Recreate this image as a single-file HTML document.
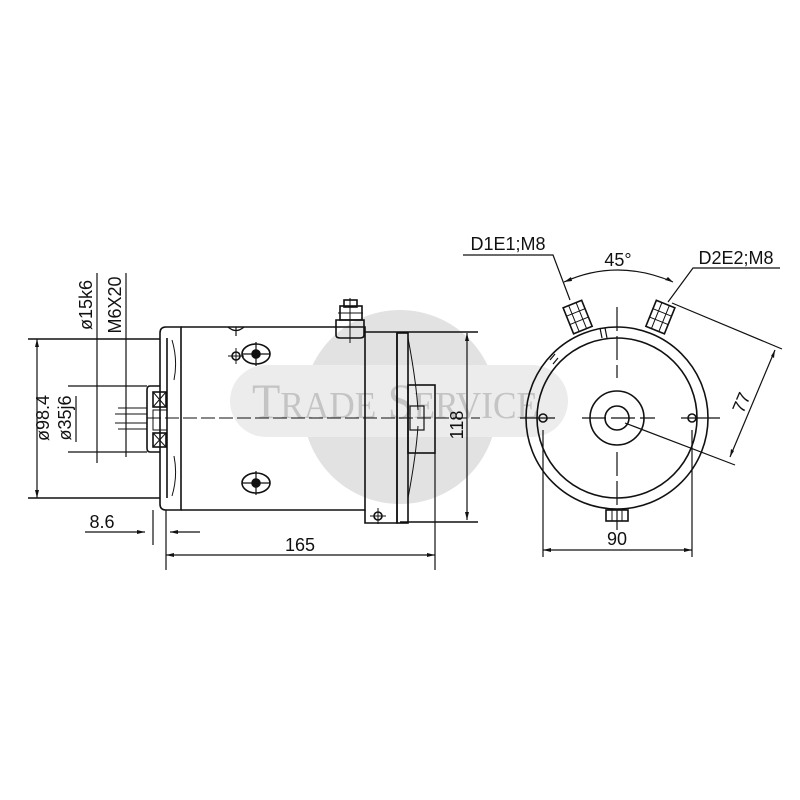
<!DOCTYPE html>
<html><head><meta charset="utf-8"><style>
html,body{margin:0;padding:0;background:#fff;}
svg{display:block;}
text{font-family:"Liberation Sans",sans-serif;fill:#111;}
</style></head><body>
<svg width="800" height="800" viewBox="0 0 800 800" xmlns="http://www.w3.org/2000/svg">
<!-- watermark -->
<circle cx="400" cy="407" r="97" fill="#e2e2e2"/>
<rect x="230" y="365" width="338" height="72" rx="36" fill="#ececec"/>
<text x="252" y="418" textLength="286" lengthAdjust="spacingAndGlyphs" style="fill:#c4c4c4;font-family:'Liberation Serif',serif;font-size:50px">T<tspan style="font-size:38px">RADE</tspan> S<tspan style="font-size:38px">ERVICE</tspan></text>

<g stroke="#111" fill="none" stroke-width="1.6">
<!-- LEFT VIEW body -->
<path d="M181 327 H365 V510 H181"/>
<path d="M166 327 H181 V510 H166 Q160 510 160 504 V333 Q160 327 166 327 Z"/>
<line x1="167" y1="338" x2="167" y2="498"/>
<path d="M172 340 Q178 360 174 380 M172 496 Q178 476 174 456" stroke-width="1"/>
<!-- hub -->
<path d="M160 386 H150 Q147 386 147 390 V448 Q147 452 150 452 H160"/>
<rect x="153" y="392" width="13" height="15"/>
<path d="M153 392 L166 407 M166 392 L153 407" stroke-width="1"/>
<rect x="153" y="433" width="13" height="14"/>
<path d="M153 433 L166 447 M166 433 L153 447" stroke-width="1"/>
<rect x="153" y="410" width="14" height="20" stroke-width="1"/>
<!-- shaft lines -->
<path d="M118 408 H147 M115 414 H147 M115 423 H147 M118 429 H147" stroke-width="1"/>
<!-- centerline -->
<line x1="147" y1="418" x2="480" y2="418" stroke-width="1" stroke-dasharray="14,4"/>
<!-- terminal top -->
<path d="M336 320 H364 V335 Q364 338 360 338 H340 Q336 338 336 335 Z"/>
<rect x="340" y="306" width="22" height="14"/>
<rect x="344" y="300" width="13" height="7"/>
<line x1="350" y1="298" x2="350" y2="343" stroke-width="1"/>
<line x1="338" y1="313" x2="363" y2="313" stroke-width="1"/>
<!-- small symbols -->
<path d="M228 327 Q236 334 244 327 M236 327 V336" stroke-width="1.2"/>
<ellipse cx="256" cy="354" rx="14" ry="10"/>
<path d="M256 342 V366 M242 354 H270" stroke-width="1.2"/>
<circle cx="256" cy="354" r="4" fill="#111"/>
<circle cx="236" cy="356" r="4"/>
<path d="M228 356 H244 M236 348 V364" stroke-width="1"/>
<ellipse cx="256" cy="483" rx="14" ry="10"/>
<path d="M256 471 V495 M242 483 H270" stroke-width="1.2"/>
<circle cx="256" cy="483" r="4" fill="#111"/>
<!-- right end cap -->
<path d="M365 332 H478"/>
<path d="M365 510 V523 H397 V333"/>
<rect x="397" y="333" width="11" height="190"/>
<path d="M408 338 Q416 380 418 410 M408 498 Q416 456 418 426" stroke-width="1"/>
<rect x="408" y="385" width="27" height="68"/>
<rect x="410" y="406" width="14" height="24" stroke-width="1.2"/>
<circle cx="378" cy="516" r="4"/>
<path d="M370 516 H386 M378 508 V524" stroke-width="1"/>
<path d="M400 522 H478"/>

<!-- dims left -->
<path d="M28 339 H160 M28 498 H160"/>
<line x1="37" y1="339" x2="37" y2="498" stroke-width="1.2"/>
<path d="M68 386 H147 M68 452 H147" stroke-width="1.2"/>
<line x1="97" y1="273" x2="97" y2="463" stroke-width="1.2"/>
<line x1="126" y1="273" x2="126" y2="457" stroke-width="1.2"/>
<line x1="76" y1="396" x2="76" y2="442" stroke-width="1.2"/>
<path d="M153 510 V545 M166 510 V570 M435 453 V570" stroke-width="1.2"/>
<path d="M85 532 H145 M170 532 H200" stroke-width="1.2"/>
<line x1="166" y1="555" x2="435" y2="555" stroke-width="1.2"/>
<line x1="467" y1="333" x2="467" y2="520" stroke-width="1.2"/>
</g>
<g fill="#111">
<path d="M37 339 l-2 8 h4z M37 498 l-2 -8 h4z M166 555 l8 -2 v4z M435 555 l-8 -2 v4z M467 333 l-2 8 h4z M467 520 l-2 -8 h4z M145 532 l-8 -2 v4z M170 532 l8 -2 v4z"/>
</g>
<g font-size="18">
<text transform="translate(49 418) rotate(-90)" text-anchor="middle">ø98.4</text>
<text transform="translate(92 305) rotate(-90)" text-anchor="middle">ø15k6</text>
<text transform="translate(121 305) rotate(-90)" text-anchor="middle">M6X20</text>
<text transform="translate(71 418) rotate(-90)" text-anchor="middle">ø35j6</text>
<text x="102" y="528" text-anchor="middle">8.6</text>
<text x="300" y="551" text-anchor="middle">165</text>
<text transform="translate(463 425) rotate(-90)" text-anchor="middle">118</text>
</g>

<!-- RIGHT VIEW -->
<g stroke="#111" fill="none" stroke-width="1.6">
<circle cx="617" cy="418" r="91"/>
<circle cx="617" cy="418" r="80"/>
<circle cx="617" cy="418" r="27"/>
<circle cx="617" cy="418" r="12"/>
<path d="M617 307 V378 M617 452 V530 M582 418 H655" stroke-width="1.2" stroke-dasharray="24,5"/>
<circle cx="543" cy="418" r="4"/>
<circle cx="692" cy="418" r="4"/>
<path d="M520 418 H555 M681 418 H720" stroke-width="1.2"/>
<path d="M543 430 V557 M692 430 V557" stroke-width="1.2"/>
<line x1="543" y1="550" x2="692" y2="550" stroke-width="1.2"/>
<g transform="translate(578 318) rotate(-22)">
<rect x="-10" y="-15" width="20" height="28"/>
<path d="M-10 -6 H10 M-10 3 H10 M-4 -15 V13 M4 -15 V13" stroke-width="1"/>
</g>
<g transform="translate(660 318) rotate(22)">
<rect x="-10" y="-15" width="20" height="28"/>
<path d="M-10 -6 H10 M-10 3 H10 M-4 -15 V13 M4 -15 V13" stroke-width="1"/>
</g>
<path d="M600 328 l2 10 M605 328 l2 10 M550 360 l5 -6 M553 364 l5 -6" stroke-width="1.2"/>
<rect x="606" y="510" width="22" height="11"/>
<path d="M612 510 V521 M622 510 V521" stroke-width="1"/>
<path d="M463 255 H553 L570 300" stroke-width="1.2"/>
<path d="M780 268 H693 L668 302" stroke-width="1.2"/>
<path d="M564 282 Q617 258 673 282" stroke-width="1.2"/>
<path d="M672 303 L782 349" stroke-width="1.2"/>
<path d="M625 423 L735 465" stroke-width="1.2"/>
<line x1="775" y1="350" x2="730" y2="457" stroke-width="1.2"/>
</g>
<g fill="#111">
<path d="M543 550 l8 -2 v4z M692 550 l-8 -2 v4z M564 282 l7 -5 l1 4z M673 282 l-8 -2 l3 -3z M775 350 l-1 8 l-3 -2z M730 457 l1 -8 l3 2z"/>
</g>
<g font-size="18">
<text x="508" y="250" text-anchor="middle">D1E1;M8</text>
<text x="736" y="264" text-anchor="middle">D2E2;M8</text>
<text x="618" y="266" text-anchor="middle">45°</text>
<text x="617" y="545" text-anchor="middle">90</text>
<text transform="translate(747 405) rotate(-67)" text-anchor="middle">77</text>
</g>
</svg>
</body></html>
